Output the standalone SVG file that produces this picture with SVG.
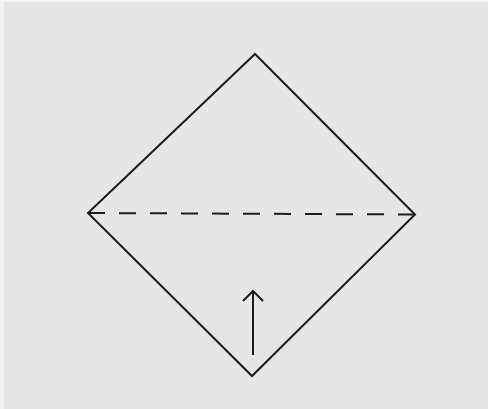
<svg xmlns="http://www.w3.org/2000/svg" width="488" height="409" viewBox="0 0 488 409">
<style>
.ln{fill:none;stroke:#1c1c1c;stroke-width:2;stroke-linejoin:miter;stroke-linecap:butt}
</style>
<rect x="0" y="0" width="488" height="409" fill="#f4f4f4"/>
<rect x="4" y="2" width="484" height="407" fill="#e6e6e6"/>
<g id="diamond">
<polygon class="ln" points="255,54 415,214.5 252,376 88,213"/>
</g>
<g id="fold-line">
<line class="ln" x1="88" y1="213" x2="415" y2="214.5" stroke-dasharray="17 14"/>
</g>
<g id="arrow">
<line class="ln" x1="253" y1="355" x2="253" y2="292"/>
<polyline class="ln" points="243,301 253,291 263,301"/>
</g>
</svg>
